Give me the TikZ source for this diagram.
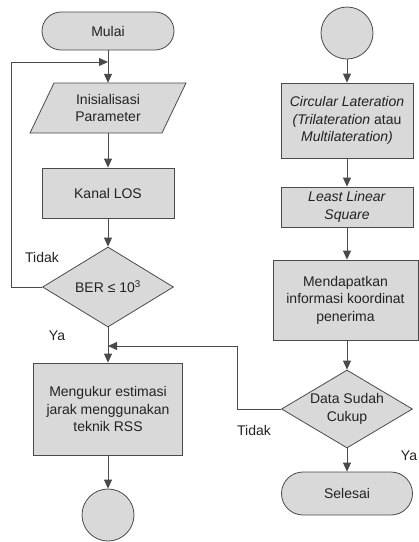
\documentclass[tikz,border=0pt]{standalone}
\usepackage{fontspec}
\setmainfont{Liberation Sans}
\usetikzlibrary{shapes.geometric,shapes.misc,arrows.meta}
\definecolor{boxfill}{HTML}{D9D9D9}
\definecolor{linecol}{HTML}{4A4A4A}
\definecolor{txtcol}{HTML}{222222}
\begin{document}
\begin{tikzpicture}[x=1pt,y=-1pt,
  every node/.style={font=\fontsize{14}{17.5}\selectfont,text=txtcol},
  base/.style={draw=linecol,fill=boxfill,line width=0.8pt,inner sep=0pt,align=center},
  procbox/.style={base,rectangle},
  termbox/.style={base,rounded rectangle},
  decbox/.style={base,diamond,aspect=1.65},
  conbox/.style={base,circle,minimum size=52pt},
  lbl/.style={inner sep=0pt},
  arr/.style={draw=linecol,line width=0.8pt,-{Triangle[length=9pt,width=8pt]}},
  ln/.style={draw=linecol,line width=0.8pt}]
\useasboundingbox (0,0) rectangle (419,542);
% left column
\node[termbox,minimum width=132pt,minimum height=38pt] (mulai) at (108,31) {Mulai};
\coordinate (join) at (108,62);
\draw[base] (54,83) -- (186,83) -- (162,133) -- (30,133) -- cycle;
\node[inner sep=0pt,minimum width=100pt,minimum height=50pt,align=center] (param) at (108,108) {Inisialisasi\\Parameter};
\node[procbox,minimum width=132pt,minimum height=50pt] (kanal) at (108,193) {Kanal LOS};
\node[decbox,minimum width=131pt,minimum height=80pt] (ber) at (108,287) {BER ≤ 10\textsuperscript{3}};
\node[procbox,minimum width=149pt,minimum height=92pt] (ukur) at (108,409) {Mengukur estimasi\\jarak menggunakan\\teknik RSS};
\node[conbox] (conA) at (108,515) {};
% right column
\node[conbox] (conB) at (347,33) {};
\node[procbox,minimum width=132pt,minimum height=75pt] (circ) at (347,120.5) {\textit{Circular Lateration}\\\textit{(Trilateration} atau\\\textit{Multilateration)}};
\node[procbox,minimum width=132pt,minimum height=40pt] (lls) at (347,207) {\textit{Least Linear}\\\textit{Square}};
\node[procbox,minimum width=145pt,minimum height=80pt] (dapat) at (345.5,300) {Mendapatkan\\informasi koordinat\\penerima};
\node[decbox,minimum width=131pt,minimum height=78pt] (cukup) at (347,409) {Data Sudah\\Cukup};
\node[termbox,minimum width=131pt,minimum height=43pt] (selesai) at (347,493.5) {Selesai};
% connectors
\draw[ln] (mulai.south) -- (join);
\draw[arr] (join) -- (param.north);
\draw[arr] (param.south) -- (kanal.north);
\draw[arr] (kanal.south) -- (ber.north);
\coordinate (loopA) at (11,287);
\coordinate (loopB) at (11,62);
\draw[arr] (ber.west) -- (loopA) -- (loopB) -- (join);
\coordinate (fb) at (108,346);
\draw[arr] (ber.south) -- (ukur.north);
\draw[arr] (ukur.south) -- (conA.north);
\draw[arr] (conB.south) -- (circ.north);
\draw[arr] (circ.south) -- (lls.north);
\draw[arr] (lls.south) -- (dapat.north -| lls.south);
\draw[arr] (dapat.south -| cukup.north) -- (cukup.north);
\draw[arr] (cukup.south) -- (selesai.north);
\coordinate (fbA) at (237,409);
\coordinate (fbB) at (237,346);
\draw[arr] (cukup.west) -- (fbA) -- (fbB) -- (fb);
% labels
\node[lbl] (tidak1) at (42,257) {Tidak};
\node[lbl] (ya1) at (57,336) {Ya};
\node[lbl] (tidak2) at (254,430) {Tidak};
\node[lbl] (ya2) at (409,456) {Ya};
\end{tikzpicture}
\end{document}
